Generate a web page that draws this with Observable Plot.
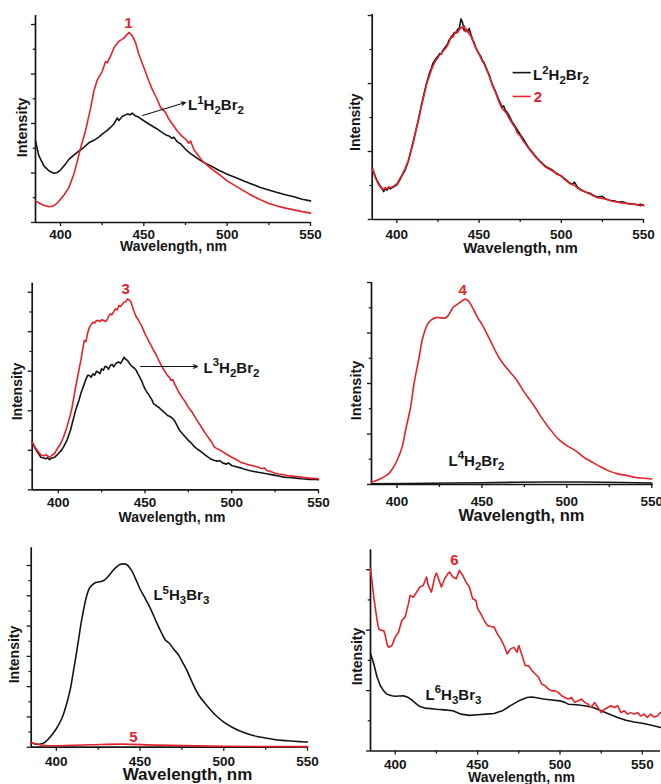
<!DOCTYPE html>
<html><head><meta charset="utf-8">
<script src="https://cdn.jsdelivr.net/npm/d3@7"></script>
<script src="https://cdn.jsdelivr.net/npm/@observablehq/plot@0.6"></script>
<style>
html,body{margin:0;padding:0;background:#fff;}
#fig{position:relative;width:661px;height:784px;overflow:hidden;background:#fff;}
#fig svg{position:absolute;}
</style></head><body><div id="fig"></div>
<script>
// ---------- data (wavelength in nm, intensity in axis-tick units) ----------
const xMajor = [400, 450, 500, 550];
const xMinor = [425, 475, 525];
const xTitle = "Wavelength, nm";
const yTitle = "Intensity";

// Panel 1
const p1RedWl = [385,388,390,393,396,398,400,402,405,408,410,412,415,418,420,422,425,427,428,430,432,435,438,440,441,443,445,447,450,453,455,458,460,463,465,468,470,473,475,477,478,480,485,490,495,500,505,510,515,520,525,530,535,540,545,550];
const p1Red   = [0.875,0.76,0.70,0.64,0.68,0.78,0.94,1.10,1.41,1.95,2.45,3.00,3.70,4.60,5.30,5.75,6.10,6.50,6.45,6.72,7.05,7.32,7.45,7.60,7.68,7.55,7.27,6.80,6.26,5.72,5.39,4.98,4.65,4.45,4.18,3.90,3.70,3.48,3.37,3.20,3.30,2.95,2.50,2.20,1.95,1.68,1.48,1.28,1.08,0.92,0.77,0.67,0.58,0.51,0.44,0.38];
const p1BlkWl = [385,386,387,390,393,396,398,400,403,405,408,410,413,415,417,420,423,425,428,430,432,434,435,437,440,442,443,445,447,450,453,455,458,460,463,465,467,468,470,472,475,478,480,485,490,495,500,505,510,515,520,525,530,535,540,545,550];
const p1Blk   = [3.30,3.00,2.70,2.29,2.09,1.99,2.02,2.12,2.36,2.55,2.72,2.83,2.98,3.10,3.22,3.32,3.45,3.57,3.72,3.84,3.98,4.22,4.12,4.28,4.38,4.36,4.42,4.31,4.25,4.11,3.98,3.90,3.78,3.68,3.55,3.50,3.40,3.45,3.26,3.18,2.96,2.78,2.69,2.46,2.29,2.11,1.95,1.82,1.68,1.55,1.41,1.31,1.21,1.12,1.04,0.94,0.875];

// Panel 2
const p2Wl  = [385,387,389,390,391,392,393,394,395,396,398,400,402,403,405,407,408,410,412,413,415,417,418,420,421,422,423,424,425,426,427,428,430,431,432,433,434,435,436,437,438,439,440,441,442,443,444,445,446,447,448,450,451,452,453,455,456,457,458,460,461,462,463,464,465,466,467,468,470,472,473,475,477,478,480,482,485,487,490,492,495,497,500,502,505,507,508,510,512,515,517,520,522,525,527,530,532,535,537,540,542,545,547,548,550];
const p2Blk = [1.52,1.25,1.05,0.98,0.90,0.82,0.92,0.86,0.95,0.90,0.96,1.02,1.18,1.28,1.45,1.72,1.92,2.30,2.70,2.92,3.38,3.80,4.00,4.33,4.45,4.60,4.68,4.74,4.80,4.88,4.86,4.98,5.10,5.18,5.30,5.34,5.42,5.50,5.48,5.60,5.62,5.90,5.78,5.55,5.60,5.52,5.62,5.45,5.30,5.20,5.05,4.88,4.80,4.68,4.62,4.38,4.28,4.12,3.98,3.76,3.64,3.52,3.42,3.30,3.34,3.20,3.16,3.08,2.88,2.74,2.66,2.50,2.36,2.28,2.12,2.00,1.82,1.72,1.58,1.52,1.44,1.36,1.28,1.20,1.08,1.04,1.10,0.94,0.88,0.80,0.78,0.70,0.66,0.68,0.60,0.56,0.55,0.51,0.52,0.48,0.46,0.45,0.42,0.45,0.41];
const p2Red = [1.50,1.22,1.02,0.95,0.92,0.88,0.94,0.90,0.96,0.93,0.98,1.05,1.22,1.30,1.50,1.74,1.90,2.26,2.72,2.88,3.34,3.74,3.96,4.26,4.40,4.52,4.62,4.70,4.76,4.84,4.90,4.94,5.06,5.14,5.24,5.40,5.36,5.46,5.52,5.50,5.58,5.66,5.62,5.70,5.52,5.58,5.46,5.40,5.28,5.16,5.04,4.86,4.76,4.66,4.58,4.36,4.24,4.10,3.96,3.74,3.60,3.48,3.36,3.26,3.22,3.16,3.10,3.00,2.84,2.70,2.56,2.46,2.30,2.24,2.10,1.98,1.80,1.70,1.56,1.50,1.42,1.34,1.28,1.18,1.06,1.02,1.00,0.92,0.86,0.80,0.76,0.68,0.64,0.62,0.60,0.55,0.53,0.50,0.49,0.47,0.45,0.44,0.43,0.40,0.44];

// Panel 3
const p3RedWl = [385,387,388,390,392,393,394,395,396,398,400,401,403,405,407,408,410,412,413,414,415,416,417,418,419,420,421,422,423,424,425,426,427,428,429,430,431,432,433,434,435,436,437,438,439,440,441,442,443,444,445,446,447,448,450,451,452,453,455,456,457,458,460,461,462,463,464,465,466,467,468,470,472,473,475,477,478,480,482,483,485,487,488,490,492,493,495,497,500,502,505,507,510,512,515,517,519,520,522,525,527,530,532,535,537,540,542,545,547,550];
const p3Red   = [2.41,2.10,1.99,1.76,1.72,1.78,1.70,1.66,1.72,1.85,2.16,2.26,2.66,3.17,3.80,4.18,5.19,6.10,6.54,7.05,7.55,7.50,7.95,8.23,8.36,8.48,8.44,8.56,8.57,8.52,8.60,8.58,8.52,8.57,8.76,8.90,8.86,9.02,9.16,9.10,9.33,9.28,9.40,9.49,9.52,9.66,9.60,9.49,9.20,8.96,8.74,8.62,8.45,8.31,7.89,7.72,7.55,7.39,7.05,6.90,6.72,6.54,6.21,6.05,5.92,5.78,5.70,5.53,5.58,5.36,5.19,4.86,4.60,4.48,4.18,3.95,3.80,3.51,3.25,3.10,2.83,2.58,2.46,2.16,2.06,2.02,1.91,1.80,1.65,1.56,1.40,1.34,1.26,1.22,1.15,1.08,1.10,0.98,0.94,0.84,0.80,0.76,0.72,0.69,0.67,0.64,0.62,0.59,0.58,0.56];
const p3BlkWl = [385,387,388,390,392,393,394,395,396,398,400,402,403,405,407,408,410,412,413,415,416,417,418,419,420,421,422,423,424,425,426,427,428,429,430,431,432,433,434,435,436,437,438,439,440,441,442,443,444,445,446,447,448,449,450,451,452,453,454,455,456,457,458,459,460,462,463,464,465,466,467,468,470,472,473,475,477,478,480,482,483,485,487,488,490,492,493,495,497,498,500,502,505,507,510,512,515,517,520,522,525,527,530,532,535,537,540,542,545,547,550];
const p3Blk   = [2.41,2.05,1.91,1.65,1.60,1.57,1.62,1.52,1.60,1.65,1.82,2.02,2.16,2.50,3.00,3.34,4.01,4.55,4.86,5.36,5.60,5.80,5.78,5.70,5.87,5.80,6.00,5.95,5.88,6.12,6.05,6.25,6.21,6.10,6.29,6.35,6.22,6.37,6.45,6.46,6.40,6.55,6.71,6.60,6.54,6.40,6.29,6.20,6.15,6.04,5.85,5.70,5.53,5.30,5.11,4.95,4.85,4.69,4.55,4.35,4.30,4.22,4.18,4.08,4.01,3.85,3.76,3.72,3.68,3.60,3.50,3.34,3.00,2.80,2.70,2.50,2.34,2.22,2.07,1.95,1.88,1.74,1.62,1.56,1.48,1.45,1.48,1.35,1.30,1.36,1.23,1.18,1.11,1.05,0.98,0.94,0.89,0.86,0.81,0.78,0.73,0.70,0.64,0.63,0.61,0.59,0.56,0.55,0.52,0.53,0.51];

// Panel 4
const p4RedWl = [385,390,395,398,400,403,405,408,410,413,415,418,420,423,425,428,430,433,435,438,440,442,445,448,450,455,460,465,470,475,480,485,490,495,500,505,510,515,520,525,530,535,540,545,550];
const p4Red   = [0.09,0.22,0.42,0.69,0.95,1.48,2.13,3.06,3.98,5.03,5.76,6.35,6.51,6.61,6.61,6.59,6.68,7.01,7.11,7.25,7.34,7.27,6.94,6.55,6.35,5.69,5.03,4.57,4.18,3.65,3.19,2.66,2.20,1.80,1.54,1.34,1.08,0.88,0.69,0.53,0.42,0.36,0.29,0.25,0.22];
const p4BlkWl = [385,420,450,490,520,550];
const p4Blk   = [0.03,0.05,0.07,0.10,0.09,0.06];

// Panel 5
const p5BlkWl = [385,388,390,393,395,398,400,403,405,408,410,413,415,418,420,423,425,428,430,433,435,438,440,442,445,448,450,453,455,458,460,463,465,468,470,473,475,478,480,485,490,495,500,505,510,515,520,525,530,535,540,545,550];
const p5Blk   = [0.30,0.20,0.20,0.30,0.51,0.91,1.22,1.83,2.43,3.65,4.87,6.90,8.32,9.94,10.55,10.85,10.91,10.99,11.16,11.56,11.81,12.07,12.11,12.07,11.66,10.95,10.45,9.84,9.43,8.72,8.21,7.51,7.10,6.80,6.49,6.09,5.68,5.07,4.56,3.45,2.74,2.13,1.66,1.32,1.05,0.85,0.71,0.61,0.51,0.45,0.41,0.37,0.34];
const p5RedWl = [385,388,392,395,420,440,460,500,550];
const p5Red   = [0.30,0.22,0.12,0.10,0.16,0.20,0.14,0.06,0.04];

// Panel 6
const p6RedWl = [385,387,389,390,392,393,394,395,396,398,400,402,404,406,408,409,411,413,415,417,419,420,422,424,425,427,428,430,432,433,435,437,439,441,443,445,447,449,450,452,454,456,458,460,462,464,466,468,470,472,474,475,477,479,481,483,485,487,489,491,493,495,497,499,501,503,505,507,509,511,513,515,517,519,521,523,525,527,529,531,533,535,537,539,541,543,545,547,549,551,553,555,557,559,561];
const p6Red   = [6.04,5.09,4.32,4.04,3.99,3.99,3.82,3.54,3.43,3.49,3.77,3.93,4.32,4.43,4.87,5.15,5.09,5.26,5.43,5.48,5.76,5.48,5.26,5.76,5.89,5.59,5.43,5.70,5.87,5.92,5.76,5.70,5.98,5.81,5.59,5.43,5.04,4.98,4.71,4.54,4.32,4.15,4.12,4.10,3.88,3.71,3.49,3.21,3.38,3.43,3.27,3.49,3.16,2.82,2.82,2.66,2.55,2.44,2.21,2.16,2.05,1.99,1.99,1.94,1.83,1.77,1.72,1.77,1.61,1.66,1.72,1.61,1.55,1.44,1.61,1.44,1.27,1.38,1.44,1.50,1.44,1.50,1.27,1.33,1.22,1.27,1.22,1.27,1.16,1.22,1.11,1.22,1.13,1.16,1.27];
const p6BlkWl = [385,387,389,391,393,395,398,400,405,408,410,413,415,418,420,425,430,435,440,445,450,455,460,465,470,475,480,483,485,490,495,500,503,505,510,515,520,525,530,535,540,545,550,555,561];
const p6Blk   = [3.23,2.88,2.44,2.16,1.99,1.88,1.83,1.81,1.83,1.77,1.69,1.55,1.47,1.42,1.41,1.38,1.36,1.33,1.22,1.18,1.20,1.22,1.24,1.33,1.50,1.66,1.77,1.79,1.77,1.72,1.69,1.66,1.61,1.55,1.53,1.50,1.44,1.33,1.22,1.11,1.02,0.96,0.92,0.86,0.78];

// annotations (data coordinates); "^x" = superscript, "_x" = subscript
const p1Nums = [{x: 440.8, y: 8.04, t: "1"}];
const p1Formula = [{x: 476.5, y: 4.73, t: "L^1H_2Br_2"}];
const p1Arrow = [{x1: 449.2, y1: 4.32, x2: 475.0, y2: 4.85}];
const p2LegLines = [{x1: 470.4, x2: 481.4, y: 4.32, k: "blk"}, {x1: 470.4, x2: 481.4, y: 3.62, k: "red"}];
const p2Formula = [{x: 482.8, y: 4.24, t: "L^2H_2Br_2"}];
const p2Nums = [{x: 483.2, y: 3.60, t: "2"}];
const p3Nums = [{x: 438.8, y: 10.14, t: "3"}];
const p3Formula = [{x: 483.7, y: 6.16, t: "L^3H_2Br_2"}];
const p3Arrow = [{x1: 447.4, y1: 6.24, x2: 480.3, y2: 6.24}];
const p4Nums = [{x: 438.6, y: 7.71, t: "4"}];
const p4Formula = [{x: 430.3, y: 0.93, t: "L^4H_2Br_2"}];
const p5Formula = [{x: 458.0, y: 10.02, t: "L^5H_3Br_3"}];
const p5Nums = [{x: 446.1, y: 0.68, t: "5"}];
const p6Nums = [{x: 436.0, y: 6.31, t: "6"}];
const p6Formula = [{x: 418.4, y: 1.85, t: "L^6H_3Br_3"}];

// ---------- drawing ----------
const RED = "#e5222a", BLK = "#151515";
const FONT = "'Liberation Sans', Arial, Helvetica, sans-serif";
const pts = (xs, ys) => xs.map((x, i) => [x, ys[i]]);
const range = (a, b, s) => d3.range(a, b + 1e-9, s);

function makePanel(p) {
  const frameMidY = (p.mt + p.h - p.mb) / 2;
  const frameMidX = (p.ml + p.w - p.mr) / 2;
  const yMaj = range(0, p.yTicks, 2), yMin = range(1, p.yTicks, 2);
  const marks = [
    Plot.axisX({ticks: xMajor, tickSize: 4, tickPadding: p.tp, tickFormat: d => `${d}`, label: null, fontSize: 13.5, strokeWidth: 1.3}),
    Plot.axisX({ticks: xMinor, tickSize: 3, tickFormat: () => "", label: null, strokeWidth: 1.3}),
    Plot.axisY({ticks: yMaj, tickSize: 4, tickFormat: () => "", label: null, strokeWidth: 1.3}),
    Plot.axisY({ticks: yMin, tickSize: 2.3, tickFormat: () => "", label: null, strokeWidth: 1.2}),
    Plot.ruleX([p.xDomain[0]], {stroke: BLK, strokeWidth: 1.7}),
    Plot.ruleY([0], {stroke: BLK, strokeWidth: 1.7}),
    ...p.series.map(s => Plot.line(pts(s.x, s.y), {x: d => d[0], y: d => d[1], stroke: s.c, strokeWidth: 1.6, curve: s.curve || "linear"})),
    Plot.text([yTitle], {frameAnchor: "left", dx: p.ix - p.ml, dy: p.iy - frameMidY, rotate: -90, fontSize: p.isz, textAnchor: "middle", lineAnchor: "middle", fill: BLK}),
    Plot.text([xTitle], {frameAnchor: "bottom", dx: p.tx - frameMidX, dy: p.ty - (p.h - p.mb), fontSize: p.tsz, lineAnchor: "middle", fill: BLK}),
    ...(p.extra || [])
  ];
  const svg = Plot.plot({
    width: p.w, height: p.h,
    marginLeft: p.ml, marginRight: p.mr, marginTop: p.mt, marginBottom: p.mb,
    x: {domain: p.xDomain, axis: null},
    y: {domain: [0, p.yTop], axis: null},
    style: {background: "transparent", overflow: "visible", fontFamily: FONT, fontWeight: "bold", fontSize: "13.5px", color: BLK},
    marks
  });
  svg.style.left = p.left + "px";
  svg.style.top = p.top + "px";
  // sub/superscripts in formula labels
  svg.querySelectorAll("text").forEach(t => {
    const s = t.textContent;
    if (!/[\^_]/.test(s)) return;
    t.textContent = "";
    let shift = 0;
    for (let i = 0; i < s.length; i++) {
      let ch = s[i], target = 0, small = false;
      if (ch === "^") { ch = s[++i]; target = -6.5; small = true; }
      else if (ch === "_") { ch = s[++i]; target = 4; small = true; }
      const ts = document.createElementNS("http://www.w3.org/2000/svg", "tspan");
      ts.textContent = ch;
      if (target !== shift) { ts.setAttribute("dy", target - shift); shift = target; }
      if (small) ts.setAttribute("font-size", "11.5px");
      t.appendChild(ts);
    }
  });
  document.getElementById("fig").appendChild(svg);
}

const numText = (data) => Plot.text(data, {x: "x", y: "y", text: "t", fill: RED, fontSize: 15, lineAnchor: "middle", textAnchor: "middle"});
const numTextStart = (data) => Plot.text(data, {x: "x", y: "y", text: "t", fill: RED, fontSize: 15, lineAnchor: "middle", textAnchor: "start"});
const formula = (data) => Plot.text(data, {x: "x", y: "y", text: "t", fill: BLK, fontSize: 15, lineAnchor: "middle", textAnchor: "start"});
const arrow = (data) => Plot.arrow(data, {x1: "x1", y1: "y1", x2: "x2", y2: "y2", stroke: BLK, strokeWidth: 1.1, headLength: 6, headAngle: 50});

makePanel({left: 0, top: 0, w: 330, h: 260, ml: 35, mr: 20, mt: 15, mb: 38, xDomain: [385, 550], yTop: 8.364, yTicks: 8, tp: 2.5,
  ix: 21.7, iy: 127, isz: 14.5, tx: 173, ty: 246, tsz: 14,
  series: [{x: p1BlkWl, y: p1Blk, c: BLK}, {x: p1RedWl, y: p1Red, c: RED}],
  extra: [arrow(p1Arrow), numText(p1Nums), formula(p1Formula)]});

makePanel({left: 330, top: 0, w: 331, h: 260, ml: 41.7, mr: 18, mt: 14, mb: 41, xDomain: [385, 550], yTop: 6.03, yTicks: 6, tp: 5.9,
  ix: 25, iy: 121.7, isz: 14, tx: 190, ty: 248, tsz: 15,
  series: [{x: p2Wl, y: p2Blk, c: BLK}, {x: p2Wl, y: p2Red, c: RED}],
  extra: [Plot.link(p2LegLines, {x1: "x1", x2: "x2", y1: "y", y2: "y", stroke: d => d.k === "red" ? RED : BLK, strokeWidth: 1.6}),
          formula(p2Formula), numTextStart(p2Nums)]});

makePanel({left: 0, top: 260, w: 330, h: 260, ml: 31.7, mr: 12, mt: 22.7, mb: 30.7, xDomain: [385, 550], yTop: 10.455, yTicks: 10, tp: 3.6,
  ix: 16.7, iy: 131, isz: 14, tx: 171.5, ty: 257, tsz: 14,
  series: [{x: p3BlkWl, y: p3Blk, c: BLK}, {x: p3RedWl, y: p3Red, c: RED}],
  extra: [arrow(p3Arrow), numText(p3Nums), formula(p3Formula)]});

makePanel({left: 330, top: 260, w: 331, h: 260, ml: 41, mr: 8, mt: 22, mb: 36, xDomain: [385, 551], yTop: 8, yTicks: 8, tp: 7.9,
  ix: 26, iy: 130, isz: 14.5, tx: 191, ty: 255, tsz: 16.5,
  series: [{x: p4BlkWl, y: p4Blk, c: BLK, curve: "catmull-rom"}, {x: p4RedWl, y: p4Red, c: RED, curve: "catmull-rom"}],
  extra: [numText(p4Nums), formula(p4Formula)]});

makePanel({left: 0, top: 520, w: 330, h: 264, ml: 30.7, mr: 23, mt: 27.3, mb: 37.3, xDomain: [385, 550], yTop: 13.17, yTicks: 12, tp: 4.8,
  ix: 14, iy: 134, isz: 14, tx: 187, ty: 254.5, tsz: 17,
  series: [{x: p5BlkWl, y: p5Blk, c: BLK, curve: "catmull-rom"}, {x: p5RedWl, y: p5Red, c: RED, curve: "catmull-rom"}],
  extra: [formula(p5Formula), numText(p5Nums)]});

makePanel({left: 330, top: 520, w: 331, h: 264, ml: 40, mr: 1, mt: 29.3, mb: 33.5, xDomain: [385, 561], yTop: 6.66, yTicks: 6, tp: 4,
  ix: 26.7, iy: 136, isz: 14, tx: 191, ty: 256.7, tsz: 14,
  series: [{x: p6BlkWl, y: p6Blk, c: BLK}, {x: p6RedWl, y: p6Red, c: RED}],
  extra: [numText(p6Nums), formula(p6Formula)]});
</script></body></html>
